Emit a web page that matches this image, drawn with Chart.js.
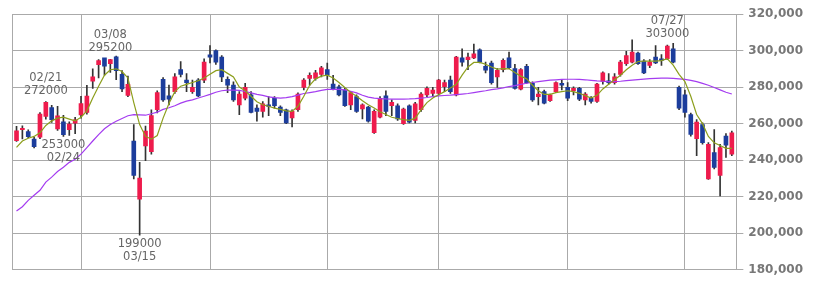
<!DOCTYPE html>
<html>
<head>
<meta charset="utf-8">
<script src="https://cdn.jsdelivr.net/npm/chart.js@4"></script>
<style>
  html, body { margin: 0; padding: 0; background: #fff; }
  #wrap { width: 829px; height: 282px; }
</style>
</head>
<body>
<div id="wrap"><canvas id="kabuChart"></canvas></div>
<script>
// daily candles, 2017/02/14 - 2017/08/10
var open  = [250700,256700,255600,251600,252600,264000,268800,257100,261000,256700,260300,264800,266100,283300,292300,296000,292800,296500,287000,275400,
             250500,218600,247800,244600,267600,284200,275200,277500,289600,283800,277500,283800,283800,297700,300000,296400,284200,281100,270300,273900,
             275700,268500,266700,270300,273900,269000,267600,263100,267600,279800,284700,284700,287000,289600,281600,280200,278400,270300,274800,268000,
             269000,255000,263600,275200,269800,269800,260000,269800,261800,267600,275700,276600,276600,280200,283800,275700,296000,295000,296000,300400,
             291400,293200,285600,289600,296000,290100,278800,291400,282000,274800,277500,272600,277500,282000,279800,278000,279300,273000,273900,272100,
             283100,283400,282400,287000,292800,293700,298600,294200,291900,296400,295500,295500,300900,279800,275700,264900,251800,259500,229800,244200,
             231600,253200,243300];
var high  = [258500,258800,256600,252500,266000,272000,270000,269400,264500,261000,263500,275000,281000,290000,295000,295000,295200,297000,289000,286000,
             259500,238800,258600,267600,278000,285200,281100,287400,294000,287400,283800,284700,295500,302700,300400,297300,285600,282900,277500,282000,
             277500,270300,272100,274800,274800,269800,268000,267600,276900,284700,287800,289200,291400,293200,286500,281100,279300,277500,275700,270800,
             269400,267600,274800,278000,273000,270800,268500,270300,271600,277000,280200,279800,284200,283800,286000,296800,300900,298600,303500,300900,
             293700,294200,290100,295500,299100,292400,290100,292400,282900,279800,278400,276200,282900,283800,282400,280200,279800,277000,274800,282000,
             288300,287400,287400,294600,299600,305800,299100,295000,295000,302700,297800,303000,304000,280600,278400,265800,262200,260400,249600,256800,
             248700,254600,255900];
var low   = [250300,251600,252300,246700,251700,262500,260700,256300,253000,253600,254500,263000,265200,279300,285000,286500,288000,284000,277500,274800,
             229800,199000,239700,243300,265800,272100,270300,276600,285600,277500,276600,274800,282400,293200,292400,282900,277000,272100,264900,273000,
             265800,261300,263600,264400,268500,264400,260000,258200,266700,278400,281100,283800,285600,284200,278400,275200,269400,267600,266200,262600,
             260800,254600,263100,264400,264400,261800,259500,260400,260400,266700,274800,275200,275700,277500,276600,275200,291400,289600,295500,293200,
             287800,281600,279800,288300,290100,278800,278400,282000,272100,270300,270800,272100,277000,278400,272600,275700,272600,270300,271200,271600,
             281600,281600,281600,286000,291900,293200,292400,287400,290600,292800,291900,295000,293200,267600,263600,253200,242400,248700,229400,235200,
             220500,241500,242400];
var close = [256100,257400,252900,247400,265200,271600,262100,264300,254000,259800,262100,271000,275100,285600,294500,291500,295000,289000,279000,281500,
             231600,230200,255900,264400,277000,273000,273400,285600,287000,282400,279800,275200,293700,296400,293700,285600,281100,273000,276200,279800,
             266200,266700,270800,269400,269800,266200,260400,266700,276200,283800,286500,287800,290600,286500,278800,275700,269800,277000,266700,270300,
             261300,266700,273900,266700,271600,262600,268000,260800,270800,276200,279300,278400,283800,282400,277500,296400,293700,296400,298200,293700,
             289200,282400,289200,294600,290600,279300,289600,282400,273000,276200,271200,275700,282400,281100,273900,279300,273400,276200,272100,281600,
             287800,282400,285600,293700,297300,299100,292800,287800,293700,293200,294600,302500,293700,268500,266200,254100,260800,249600,248700,236100,
             246900,248200,255000];

// moving averages
var ma5  = [247000,250500,252000,253000,255000,259000,261500,263000,263500,262500,261500,263500,267000,274000,280500,286500,289500,290000,288500,285000,
            271500,259500,253000,251500,253500,263000,271000,277500,280500,281500,282500,283500,285000,287000,289000,289500,287500,285500,280000,278000,
            275000,272000,270300,269500,268500,267800,267000,266700,269500,275000,281000,284500,286000,286500,285000,282500,279800,277000,275000,272500,
            270300,268500,266500,265000,263500,262800,262200,261800,263000,267500,271500,274000,275800,277500,279500,281500,286500,291000,293500,293500,
            292500,291000,289800,290100,290000,288000,286000,284500,281000,278000,276000,276000,277000,277500,278000,277500,276600,275300,274000,275500,
            279000,281500,284000,286500,289500,292000,294000,294200,294200,294200,294500,295500,292000,287000,283000,275000,265000,260000,253000,249500,
            248000,246500,246500];
var ma25 = [212200,214500,218000,220800,223500,228000,230700,233800,236100,238800,240500,243300,246900,250500,254000,257200,259500,261300,262800,264300,
            264900,264800,264600,265400,266300,267800,268700,269800,271200,272300,273000,274000,275000,276000,277200,278000,278300,278300,278200,277600,
            276800,276000,275500,274600,274200,274000,274200,274800,275600,276500,277000,277500,278200,278700,278800,278800,278500,277700,276800,275500,
            274500,274000,273700,273500,273400,273400,273400,273500,273700,274000,274300,274800,275200,275400,275600,275900,276200,276500,277000,277500,
            278000,278600,279000,279600,280300,280800,281500,282100,282500,283000,283400,283800,284000,284200,284300,284300,284200,284000,283700,283400,
            283200,283000,283000,283200,283500,283800,284100,284400,284600,284800,284900,284900,284800,284500,284200,283700,283000,282000,281000,279800,
            278500,277200,276200];

// first trading day of Mar, Apr, May, Jun, Jul, Aug
var monthStarts = [11, 33, 53, 72, 94, 114];

var notes = [
    { i: 5,   date: '02/21', value: 272000, side: 'high' },
    { i: 8,   date: '02/24', value: 253000, side: 'low' },
    { i: 16,  date: '03/08', value: 295200, side: 'high' },
    { i: 21,  date: '03/15', value: 199000, side: 'low' },
    { i: 111, date: '07/27', value: 303000, side: 'high' }
];

var xMin = -0.77, xMax = open.length - 1 + 0.77;
var upColor = '#ee1b4c', downColor = '#1c3d9c';

var notePlugin = {
    id: 'notes',
    afterDatasetsDraw: function (chart) {
        var c = chart.ctx, xs = chart.scales.x, ys = chart.scales.y;
        c.save();
        c.font = '11.5px "DejaVu Sans"';
        c.fillStyle = '#666';
        c.textAlign = 'center';
        c.textBaseline = 'middle';
        notes.forEach(function (n) {
            var x = xs.getPixelForValue(n.i), y = ys.getPixelForValue(n.value);
            if (n.side === 'high') {
                c.fillText(n.date, x, y - 24);
                c.fillText(String(n.value), x, y - 11);
            } else {
                c.fillText(String(n.value), x, y + 9);
                c.fillText(n.date, x, y + 22);
            }
        });
        c.restore();
    }
};

var ctx = document.getElementById('kabuChart').getContext('2d');
var myChart = new Chart(ctx, {
    type: 'bar',
    data: {
        datasets: [{
            type: 'line',
            label: '5日',
            data: ma5.map(function (v, i) { return { x: i, y: v }; }),
            borderColor: '#8c9e1c',
            borderWidth: 1.2,
            pointRadius: 0,
            tension: 0,
            order: 0
        }, {
            type: 'line',
            label: '25日',
            data: ma25.map(function (v, i) { return { x: i, y: v }; }),
            borderColor: '#a43cf0',
            borderWidth: 1.2,
            pointRadius: 0,
            tension: 0,
            order: 1
        }, {
            label: 'body',
            data: open.map(function (o, i) { return { x: i, y: [o, close[i]] }; }),
            backgroundColor: open.map(function (o, i) { return close[i] >= o ? upColor : downColor; }),
            barThickness: 4,
            minBarLength: 1,
            stack: 'candle',
            order: 2
        }, {
            label: 'wick',
            data: low.map(function (l, i) { return { x: i, y: [l, high[i]] }; }),
            backgroundColor: '#333',
            barThickness: 1,
            stack: 'candle',
            order: 3
        }]
    },
    options: {
        responsive: true,
        maintainAspectRatio: false,
        animation: false,
        layout: { padding: { left: 12, top: 14, right: 21, bottom: 10 } },
        plugins: { legend: { display: false }, tooltip: { enabled: false } },
        scales: {
            x: {
                type: 'linear',
                min: xMin,
                max: xMax,
                offset: false,
                stacked: true,
                afterBuildTicks: function (s) {
                    s.ticks = [xMin].concat(monthStarts, [xMax]).map(function (v) { return { value: v }; });
                },
                ticks: { display: false },
                grid: { color: '#aaa', drawTicks: false, offset: false },
                border: { color: '#aaa' }
            },
            y: {
                position: 'right',
                min: 180000,
                max: 320000,
                stacked: false,
                ticks: {
                    stepSize: 20000,
                    color: '#777',
                    padding: 5,
                    font: { family: 'DejaVu Sans', weight: 'bold', size: 12 }
                },
                grid: { color: '#aaa', tickLength: 7 },
                border: { color: '#aaa' }
            }
        }
    },
    plugins: [notePlugin]
});
</script>
</body>
</html>
